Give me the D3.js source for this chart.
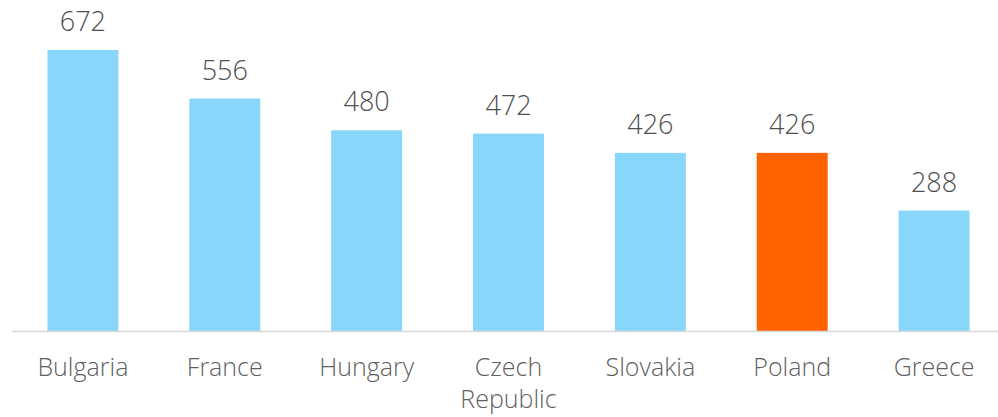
<!DOCTYPE html>
<html><head><meta charset="utf-8">
<script src="https://cdn.jsdelivr.net/npm/d3@7"></script>
<style>html,body{margin:0;padding:0;background:#fff;overflow:hidden}</style>
</head><body>
<svg id="c" width="998" height="417"></svg>
<script>
const categories = ["Bulgaria","France","Hungary","Czech Republic","Slovakia","Poland","Greece"];
const values = [672,556,480,472,426,426,288];
const highlight = ["Poland"];

const svg = d3.select("#c");
const x = d3.scaleBand().domain(categories).range([12,1005]).paddingInner(0.5).paddingOuter(0.25);
const y = d3.scaleLinear().domain([0,672]).range([331,50]);
const font = "'Open Sans', sans-serif";

svg.selectAll("rect.bar").data(categories).enter().append("rect")
  .attr("x", d=>x(d)).attr("width", x.bandwidth())
  .attr("y", (d,i)=>y(values[i])).attr("height", (d,i)=>y(0)-y(values[i]))
  .attr("fill", d=> highlight.includes(d) ? "#FF6200" : "#89D6FB");

svg.append("line").attr("x1",12).attr("x2",998).attr("y1",y(0)+0.5).attr("y2",y(0)+0.5)
  .attr("stroke","#d9d9d9").attr("stroke-width",1.5);

svg.selectAll("text.val").data(categories).enter().append("text")
  .attr("x", d=>x(d)+x.bandwidth()/2).attr("y",(d,i)=>y(values[i])-19)
  .attr("text-anchor","middle").attr("font-family",font).attr("font-size",27)
  .attr("font-weight",300).attr("fill","#4f4f4f").text((d,i)=>values[i]);

const labels = svg.selectAll("text.cat").data(categories).enter().append("text")
  .attr("x", d=>x(d)+x.bandwidth()/2).attr("y",376)
  .attr("text-anchor","middle").attr("font-family",font).attr("font-size",25)
  .attr("font-weight",300).attr("fill","#5f5f5f");
labels.each(function(d){
  const words = d.split(" ");
  const t = d3.select(this);
  if (words.length>1 && d.length>10){
    words.forEach((w,i)=>t.append("tspan").attr("x", x(d)+x.bandwidth()/2).attr("dy", i?32:0).text(w));
  } else t.text(d);
});
</script>
</body></html>
